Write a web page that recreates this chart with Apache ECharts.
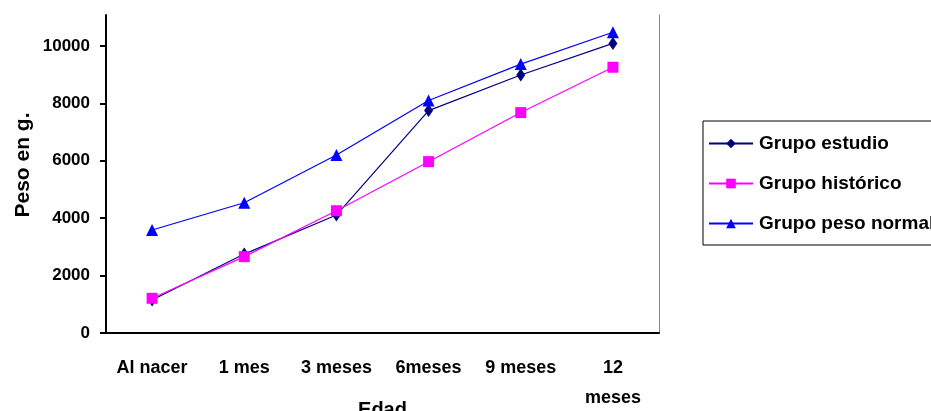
<!DOCTYPE html>
<html><head><meta charset="utf-8">
<script src="https://cdn.jsdelivr.net/npm/echarts@6/dist/echarts.min.js"></script>
<style>html,body{margin:0;padding:0;background:#fff}#c{width:931px;height:411px}</style>
</head><body><div id="c"></div>
<script>
const categories = ['Al nacer', '1 mes', '3 meses', '6meses', '9 meses', '12 meses'];
const grupoEstudio = [1150, 2750, 4110, 7750, 8990, 10090];
const grupoHistorico = [1210, 2660, 4260, 5970, 7680, 9260];
const grupoPesoNormal = [3590, 4540, 6200, 8100, 9370, 10480];
const yTicks = [0, 2000, 4000, 6000, 8000, 10000];

const FONT = "'Liberation Sans',Arial,sans-serif";
const chart = echarts.init(document.getElementById('c'));
chart.setOption({
  animation: false,
  backgroundColor: '#fff',
  grid: { left: 106, right: 272, top: 15, bottom: 78, containLabel: false, outerBoundsMode: 'none' },
  legend: {
    orient: 'vertical', left: 703, top: 121,
    borderColor: '#000', borderWidth: 1, padding: [13, 40, 12, 5],
    itemWidth: 44, itemHeight: 12, itemGap: 21,
    textStyle: { fontFamily: FONT, fontWeight: 'bold', fontSize: 19, color: '#000', padding: [0, 0, 0, 1] },
    data: ['Grupo estudio', 'Grupo histórico', 'Grupo peso normal']
  },
  xAxis: {
    type: 'category', data: categories, boundaryGap: true,
    name: 'Edad', nameLocation: 'middle', nameGap: 67, nameMoveOverlap: false,
    nameTextStyle: { fontFamily: FONT, fontWeight: 'bold', fontSize: 20, color: '#000' },
    axisLine: { lineStyle: { color: '#000', width: 2 } },
    axisTick: { inside: true, length: 6, lineStyle: { color: '#000', width: 2 } },
    axisLabel: {
      interval: 0, margin: 20, color: '#000', fontFamily: FONT, fontWeight: 'bold', fontSize: 18, lineHeight: 30,
      formatter: v => v === '12 meses' ? '12\nmeses' : v
    }
  },
  yAxis: [{
    type: 'value', min: 0, max: 11080, interval: 2000,
    name: 'Peso en g.', nameLocation: 'middle', nameGap: 72, nameRotate: 90, nameMoveOverlap: false,
    nameTextStyle: { fontFamily: FONT, fontWeight: 'bold', fontSize: 21, color: '#000', padding: [0, 0, 0, 18] },
    axisLine: { show: true, lineStyle: { color: '#000', width: 2 } },
    axisTick: { show: true, length: 6, lineStyle: { color: '#000', width: 2 } },
    axisLabel: {
      margin: 16, color: '#000', fontFamily: FONT, fontWeight: 'bold', fontSize: 17,
      showMaxLabel: false,
      formatter: v => yTicks.includes(v) ? String(v) : ''
    },
    splitLine: { show: false }
  }, {
    type: 'value', min: 0, max: 11080, position: 'right',
    axisLine: { show: true, lineStyle: { color: '#888', width: 1 } },
    axisTick: { show: false }, axisLabel: { show: false }, splitLine: { show: false }
  }],
  series: [
    { name: 'Grupo estudio', type: 'line', data: grupoEstudio, symbol: 'diamond', symbolSize: [9, 13],
      lineStyle: { color: '#000080', width: 1.2 }, itemStyle: { color: '#000080' } },
    { name: 'Grupo histórico', type: 'line', data: grupoHistorico, symbol: 'rect', symbolSize: 11,
      lineStyle: { color: '#ff00ff', width: 1.2 }, itemStyle: { color: '#ff00ff' } },
    { name: 'Grupo peso normal', type: 'line', data: grupoPesoNormal, symbol: 'triangle', symbolSize: 12,
      lineStyle: { color: '#0000ff', width: 1.2 }, itemStyle: { color: '#0000ff' } }
  ]
});
</script></body></html>
